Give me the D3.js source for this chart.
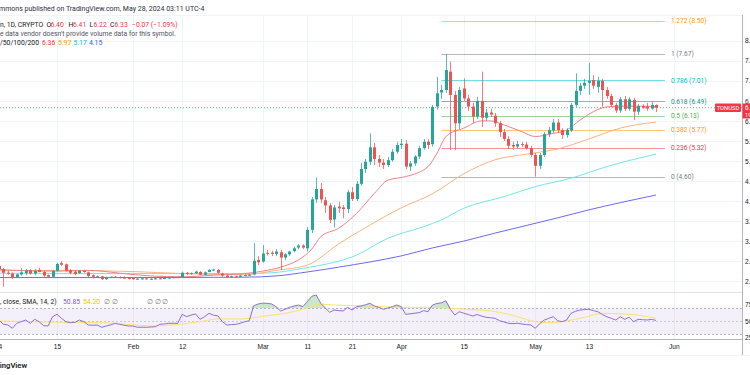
<!DOCTYPE html>
<html>
<head>
<meta charset="utf-8">
<script src="https://cdn.jsdelivr.net/npm/d3@7"></script>
<style>
  html, body { margin: 0; padding: 0; background: #fff; }
  svg { display: block; font-family: "Roboto", "Liberation Sans", sans-serif; }
</style>
</head>
<body>
<div id="chart"></div>
<script>
// --------------------------------------
//  Data (TONUSD, 1D)
// --------------------------------------

// [day, open, high, low, close]
const ohlcJan = [
  [1, 2.33, 2.40, 2.30, 2.38], [2, 2.38, 2.42, 2.28, 2.30], [3, 2.30, 2.33, 1.86, 2.21],
  [4, 2.21, 2.26, 2.16, 2.19], [5, 2.19, 2.22, 2.06, 2.10], [6, 2.10, 2.19, 2.08, 2.17],
  [7, 2.17, 2.33, 2.14, 2.22], [8, 2.20, 2.30, 2.15, 2.27], [9, 2.27, 2.30, 2.16, 2.19],
  [10, 2.19, 2.30, 2.15, 2.26], [11, 2.28, 2.34, 2.22, 2.23], [12, 2.23, 2.26, 2.10, 2.14],
  [13, 2.15, 2.17, 2.09, 2.11], [14, 2.11, 2.28, 2.09, 2.26], [15, 2.26, 2.46, 2.24, 2.43],
  [16, 2.45, 2.50, 2.38, 2.41], [17, 2.42, 2.44, 2.24, 2.26], [18, 2.27, 2.30, 2.17, 2.21],
  [19, 2.24, 2.27, 2.15, 2.18], [20, 2.20, 2.28, 2.18, 2.26], [21, 2.26, 2.28, 2.21, 2.23],
  [22, 2.22, 2.24, 2.10, 2.13], [23, 2.15, 2.17, 2.07, 2.11], [24, 2.11, 2.14, 2.08, 2.12],
  [25, 2.12, 2.13, 2.03, 2.05], [26, 2.05, 2.11, 2.03, 2.10], [27, 2.10, 2.12, 2.08, 2.11],
  [28, 2.11, 2.13, 2.08, 2.10], [29, 2.10, 2.12, 2.07, 2.09], [30, 2.09, 2.12, 2.06, 2.08],
  [31, 2.08, 2.10, 2.04, 2.07]
];
const ohlcFeb = [
  [1, 2.09, 2.10, 2.03, 2.05], [2, 2.05, 2.08, 2.04, 2.06], [3, 2.06, 2.08, 2.04, 2.07],
  [4, 2.07, 2.08, 2.04, 2.05], [5, 2.05, 2.07, 2.03, 2.06], [6, 2.06, 2.08, 2.04, 2.07],
  [7, 2.07, 2.08, 2.05, 2.06], [8, 2.06, 2.09, 2.05, 2.08], [9, 2.08, 2.10, 2.06, 2.09],
  [10, 2.09, 2.11, 2.07, 2.10], [11, 2.10, 2.12, 2.08, 2.09], [12, 2.09, 2.24, 2.08, 2.21],
  [13, 2.21, 2.23, 2.15, 2.18], [14, 2.18, 2.22, 2.16, 2.20], [15, 2.20, 2.26, 2.18, 2.24],
  [16, 2.23, 2.25, 2.15, 2.16], [17, 2.16, 2.24, 2.15, 2.22], [18, 2.23, 2.30, 2.22, 2.28],
  [19, 2.28, 2.31, 2.25, 2.29], [20, 2.28, 2.30, 2.18, 2.21], [21, 2.19, 2.21, 2.11, 2.14],
  [22, 2.14, 2.16, 2.08, 2.10], [23, 2.10, 2.14, 2.08, 2.12], [24, 2.12, 2.14, 2.10, 2.11],
  [25, 2.11, 2.16, 2.10, 2.14], [26, 2.14, 2.17, 2.12, 2.15], [27, 2.15, 2.18, 2.13, 2.16],
  [28, 2.17, 2.95, 2.15, 2.51], [29, 2.53, 2.62, 2.40, 2.47]
];
const ohlcMar = [
  [1, 2.49, 2.90, 2.46, 2.69], [2, 2.71, 2.78, 2.64, 2.69], [3, 2.71, 2.76, 2.63, 2.68],
  [4, 2.68, 2.80, 2.62, 2.74], [5, 2.72, 2.78, 2.28, 2.59], [6, 2.59, 2.70, 2.52, 2.67],
  [7, 2.67, 2.76, 2.63, 2.74], [8, 2.75, 2.86, 2.72, 2.82], [9, 2.84, 2.93, 2.80, 2.89],
  [10, 2.89, 2.92, 2.80, 2.84], [11, 2.82, 3.35, 2.74, 3.28], [12, 3.28, 4.10, 3.20, 4.04],
  [13, 4.04, 4.59, 3.95, 4.30], [14, 4.30, 4.45, 3.95, 4.04], [15, 4.02, 4.10, 3.70, 3.89],
  [16, 3.89, 3.95, 3.45, 3.53], [17, 3.54, 3.90, 3.34, 3.84], [18, 3.86, 3.98, 3.70, 3.82],
  [19, 3.84, 3.90, 3.57, 3.80], [20, 3.80, 4.28, 3.70, 4.22], [21, 4.22, 4.35, 4.00, 4.05],
  [22, 4.05, 4.50, 4.00, 4.43], [23, 4.43, 4.95, 4.38, 4.80], [24, 4.80, 5.05, 4.70, 4.98],
  [25, 4.98, 5.69, 4.90, 5.34], [26, 5.34, 5.45, 4.90, 5.05], [27, 5.05, 5.15, 4.85, 4.96],
  [28, 4.96, 5.05, 4.80, 4.90], [29, 4.90, 5.10, 4.85, 5.02], [30, 5.02, 5.30, 4.98, 5.23],
  [31, 5.23, 5.48, 5.18, 5.40]
];
const ohlcApr = [
  [1, 5.40, 5.55, 5.30, 5.43], [2, 5.43, 5.52, 4.80, 4.86], [3, 4.86, 5.00, 4.75, 4.94],
  [4, 4.94, 5.15, 4.88, 5.11], [5, 5.11, 5.38, 5.05, 5.32], [6, 5.32, 5.55, 5.28, 5.48],
  [7, 5.48, 5.55, 5.30, 5.40], [8, 5.42, 6.40, 5.36, 6.35], [9, 6.36, 7.10, 6.28, 6.69],
  [10, 6.71, 6.90, 6.55, 6.77], [11, 6.77, 7.67, 6.70, 7.27], [12, 7.23, 7.48, 5.27, 6.65],
  [13, 6.65, 6.75, 5.27, 5.94], [14, 5.94, 6.85, 5.80, 6.77], [15, 6.81, 7.06, 6.50, 6.56],
  [16, 6.56, 6.65, 6.25, 6.36], [17, 6.36, 6.45, 5.95, 6.11], [18, 6.11, 6.60, 6.05, 6.50],
  [19, 6.50, 7.23, 5.85, 6.08], [20, 6.08, 6.30, 6.00, 6.21], [21, 6.21, 6.30, 6.10, 6.16],
  [22, 6.13, 6.20, 5.85, 5.94], [23, 5.94, 6.00, 5.60, 5.72], [24, 5.72, 5.80, 5.50, 5.55],
  [25, 5.55, 5.62, 5.30, 5.38], [26, 5.40, 5.48, 5.28, 5.36], [27, 5.36, 5.50, 5.32, 5.42],
  [28, 5.42, 5.48, 5.35, 5.40], [29, 5.41, 5.48, 5.28, 5.32], [30, 5.32, 5.38, 5.10, 5.15]
];
const ohlcMay = [
  [1, 5.15, 5.20, 4.61, 4.88], [2, 4.88, 5.20, 4.80, 5.15], [3, 5.15, 5.72, 5.10, 5.67],
  [4, 5.67, 5.85, 5.60, 5.77], [5, 5.76, 6.05, 5.70, 5.96], [6, 5.96, 6.05, 5.70, 5.77],
  [7, 5.77, 5.82, 5.55, 5.65], [8, 5.65, 5.82, 5.58, 5.77], [9, 5.76, 6.45, 5.72, 6.40],
  [10, 6.40, 7.19, 6.35, 6.75], [11, 6.75, 6.95, 6.65, 6.88], [12, 6.88, 7.05, 6.80, 6.95],
  [13, 6.95, 7.45, 6.65, 7.00], [14, 7.02, 7.15, 6.80, 6.88], [15, 6.85, 7.10, 6.70, 7.00],
  [16, 7.00, 7.05, 6.35, 6.77], [17, 6.77, 6.85, 6.55, 6.62], [18, 6.62, 6.68, 6.35, 6.40],
  [19, 6.40, 6.45, 6.20, 6.26], [20, 6.26, 6.60, 6.20, 6.54], [21, 6.54, 6.62, 6.25, 6.30],
  [22, 6.30, 6.60, 6.25, 6.54], [23, 6.52, 6.58, 6.02, 6.23], [24, 6.23, 6.42, 6.15, 6.37],
  [25, 6.37, 6.42, 6.30, 6.33], [26, 6.36, 6.45, 6.25, 6.31], [27, 6.31, 6.48, 6.28, 6.40],
  [28, 6.40, 6.41, 6.22, 6.33]
];

// moving averages
const ma20 = [
  ["2024-01-01", 2.30], ["2024-01-08", 2.26], ["2024-01-15", 2.25], ["2024-01-22", 2.27],
  ["2024-01-29", 2.20], ["2024-02-05", 2.13], ["2024-02-12", 2.11], ["2024-02-19", 2.15],
  ["2024-02-26", 2.19], ["2024-03-01", 2.25], ["2024-03-05", 2.35], ["2024-03-09", 2.53],
  ["2024-03-12", 2.80], ["2024-03-14", 3.11], ["2024-03-18", 3.32], ["2024-03-22", 3.69],
  ["2024-03-26", 4.19], ["2024-03-29", 4.52], ["2024-04-02", 4.61], ["2024-04-07", 4.86],
  ["2024-04-09", 5.19], ["2024-04-11", 5.61], ["2024-04-15", 5.82], ["2024-04-19", 6.00],
  ["2024-04-21", 6.00], ["2024-04-24", 5.90], ["2024-04-28", 5.73], ["2024-05-01", 5.61],
  ["2024-05-05", 5.69], ["2024-05-08", 5.77], ["2024-05-11", 6.02], ["2024-05-14", 6.23],
  ["2024-05-17", 6.35], ["2024-05-21", 6.37], ["2024-05-28", 6.36]
];
const ma50 = [
  ["2024-01-01", 2.26], ["2024-01-15", 2.27], ["2024-02-01", 2.24], ["2024-02-12", 2.19],
  ["2024-02-26", 2.16], ["2024-03-04", 2.27], ["2024-03-11", 2.40], ["2024-03-18", 2.93],
  ["2024-03-25", 3.40], ["2024-04-01", 3.83], ["2024-04-08", 4.18], ["2024-04-15", 4.68],
  ["2024-04-22", 5.03], ["2024-04-29", 5.17], ["2024-05-06", 5.30], ["2024-05-13", 5.55],
  ["2024-05-20", 5.82], ["2024-05-28", 5.97]
];
const ma100 = [
  ["2024-01-01", 2.20], ["2024-02-01", 2.19], ["2024-02-26", 2.19], ["2024-03-03", 2.21],
  ["2024-03-10", 2.32], ["2024-03-22", 2.65], ["2024-03-29", 3.07], ["2024-04-06", 3.36],
  ["2024-04-10", 3.53], ["2024-04-15", 3.82], ["2024-04-24", 4.11], ["2024-05-01", 4.36],
  ["2024-05-09", 4.57], ["2024-05-17", 4.86], ["2024-05-28", 5.17]
];
const ma200 = [
  ["2024-01-01", 2.09], ["2024-02-01", 2.09], ["2024-02-26", 2.10], ["2024-03-04", 2.13],
  ["2024-03-11", 2.23], ["2024-03-18", 2.35], ["2024-03-25", 2.48], ["2024-04-01", 2.63],
  ["2024-04-08", 2.83], ["2024-04-15", 3.00], ["2024-04-22", 3.20], ["2024-04-29", 3.39],
  ["2024-05-06", 3.58], ["2024-05-13", 3.78], ["2024-05-20", 3.96], ["2024-05-28", 4.15]
];

// RSI(14), daily, per month (first day listed)
const rsiJan = [51.5, 45, 44, 38.8, 46.4, 49, 51.5, 46.4, 52.6, 48.9, 42.8, 42.3, 56.6, 60.3, 54.1,
  48.9, 47.4, 48, 51.5, 49, 43.8, 43.5, 43.8, 40.3, 42.3, 44, 46.4, 44.9, 43.5, 42.3]; // from Jan 2
const rsiFeb = [42.3, 40.3, 40.5, 40.3, 40.8, 41.2, 44.9, 45.5, 46.4, 46.4, 46.4, 60.3, 56.6, 59.2, 60.8,
  52.6, 56.6, 61.8, 59, 57.7, 48.9, 43.8, 44.5, 44.9, 46.5, 48.9, 50.5, 73.5, 76.2];
const rsiMar = [77.5, 77.2, 76.2, 72.1, 65.4, 68, 71, 73.1, 74.6, 72.1, 80, 88, 90, 77.2, 70, 63.4, 66.9,
  66, 65.4, 71, 66.9, 72, 73.1, 75, 77.2, 73.1, 71, 68, 70, 72, 74.6];
const rsiApr = [72.1, 60.3, 61, 62, 62.8, 66, 64.3, 74.6, 77, 78, 81.2, 68, 59.2, 64.3, 62, 60, 57.7, 60,
  57.5, 55.7, 55, 54.1, 50.5, 48.5, 46.4, 46, 46.5, 45.4, 44.5, 43.8];
const rsiMay = [38.8, 46, 51.5, 54, 56.6, 50.5, 49, 51.5, 61.8, 65, 66.9, 67.5, 68, 66, 64.3, 60, 56.5,
  54.1, 51.5, 56.6, 52.6, 55.7, 48.9, 52.6, 52, 51.5, 52.5, 50.85];
const rsiSma = [
  ["2024-01-02", 50], ["2024-01-10", 49], ["2024-01-17", 48], ["2024-01-25", 47.4], ["2024-02-01", 44],
  ["2024-02-05", 42.3], ["2024-02-08", 42.8], ["2024-02-12", 45.4], ["2024-02-16", 48.9],
  ["2024-02-20", 53.1], ["2024-02-24", 53.1], ["2024-02-27", 54.1], ["2024-03-02", 58.2],
  ["2024-03-06", 61.8], ["2024-03-10", 68], ["2024-03-14", 75.7], ["2024-03-17", 74.6],
  ["2024-03-25", 73.1], ["2024-04-01", 71], ["2024-04-08", 71], ["2024-04-12", 69.5],
  ["2024-04-16", 68], ["2024-04-23", 63.4], ["2024-04-27", 56.6], ["2024-05-01", 48.9],
  ["2024-05-04", 47.4], ["2024-05-08", 50], ["2024-05-12", 55.7], ["2024-05-16", 61.8],
  ["2024-05-20", 61], ["2024-05-24", 59], ["2024-05-28", 54.2]
];

// Fibonacci retracement (Apr 10 -> May 30)
const fibLevels = ["1.272", "1", "0.786", "0.618", "0.5", "0.382", "0.236", "0"];
const fibPrices = [8.50, 7.67, 7.01, 6.49, 6.13, 5.77, 5.32, 4.60];
const fibColors = ["#ff9800", "#787b86", "#00bcd4", "#089981", "#4caf50", "#ff9800", "#f23645", "#787b86"];
const fibRange = ["2024-04-10", "2024-05-30"];

// axes
const priceTicks = [2, 2.5, 3, 3.5, 4, 4.5, 5, 5.5, 6, 6.5, 7, 7.5, 8];
const rsiTicks = [75, 50, 25];
const timeTicks = ["2024-01-01", "2024-01-15", "2024-02-01", "2024-02-12", "2024-03-01", "2024-03-11",
  "2024-03-21", "2024-04-01", "2024-04-15", "2024-05-01", "2024-05-13", "2024-06-01"];
const timeLabels = ["2024", "15", "Feb", "12", "Mar", "11", "21", "Apr", "15", "May", "13", "Jun"];
const lastPrice = 6.33;

// --------------------------------------
//  Canvas
// --------------------------------------

const width = 750, height = 375;
const paneRight = 742;
const main = { top: 15, bottom: 292 };
const rsiPane = { top: 293, bottom: 339 };

const parse = d3.utcParse("%Y-%m-%d");
const candles = [];
[ohlcJan, ohlcFeb, ohlcMar, ohlcApr, ohlcMay].forEach((rows, m) => {
  rows.forEach(([day, o, h, l, c]) => candles.push({ date: new Date(Date.UTC(2024, m, day)), o, h, l, c }));
});
const rsi = [];
[[rsiJan, 0, 2], [rsiFeb, 1, 1], [rsiMar, 2, 1], [rsiApr, 3, 1], [rsiMay, 4, 1]].forEach(([vals, m, first]) => {
  vals.forEach((v, i) => rsi.push({ date: new Date(Date.UTC(2024, m, first + i)), v }));
});

const svg = d3.select("#chart").append("svg")
  .attr("width", width).attr("height", height)
  .attr("viewBox", [0, 0, width, height]);

const x = d3.scaleUtc()
  .domain([parse("2024-02-01"), parse("2024-06-01")])
  .range([133, 133 + 121 * 4.47]);
const y = d3.scaleLinear().domain([4.60, 7.67]).range([177, 54]);
const yr = d3.scaleLinear().domain([30, 70]).range([334, 308]);

const defs = svg.append("defs");
defs.append("clipPath").attr("id", "clipMain").append("rect")
  .attr("x", 0).attr("y", main.top).attr("width", paneRight).attr("height", main.bottom - main.top);
defs.append("clipPath").attr("id", "clipRsi").append("rect")
  .attr("x", 0).attr("y", rsiPane.top).attr("width", paneRight).attr("height", rsiPane.bottom - rsiPane.top);

// --------------------------------------
//  Grid + frames
// --------------------------------------

svg.append("g").selectAll("line")
  .data(priceTicks)
  .join("line")
  .attr("x1", 0).attr("x2", paneRight)
  .attr("y1", d => Math.round(y(d)) + 0.5).attr("y2", d => Math.round(y(d)) + 0.5)
  .attr("stroke", "#f0f3fa");

svg.append("g").selectAll("line")
  .data(timeTicks)
  .join("line")
  .attr("x1", d => Math.round(x(parse(d))) + 0.5).attr("x2", d => Math.round(x(parse(d))) + 0.5)
  .attr("y1", main.top).attr("y2", rsiPane.bottom)
  .attr("stroke", "#f0f3fa");

svg.append("line").attr("x1", 0).attr("x2", paneRight).attr("y1", main.top + 0.5).attr("y2", main.top + 0.5)
  .attr("stroke", "#f0f3fa");
svg.append("line").attr("x1", 0).attr("x2", paneRight).attr("y1", main.bottom + 0.5).attr("y2", main.bottom + 0.5)
  .attr("stroke", "#e0e3eb");
svg.append("line").attr("x1", 0).attr("x2", paneRight).attr("y1", rsiPane.bottom + 0.5).attr("y2", rsiPane.bottom + 0.5)
  .attr("stroke", "#b2b5be");
svg.append("line").attr("x1", 0).attr("x2", width).attr("y1", 355.5).attr("y2", 355.5)
  .attr("stroke", "#f0f3fa");
svg.append("line").attr("x1", paneRight + 0.5).attr("x2", paneRight + 0.5).attr("y1", main.top).attr("y2", 355)
  .attr("stroke", "#b2b5be");

// --------------------------------------
//  Main pane
// --------------------------------------

const gMain = svg.append("g").attr("clip-path", "url(#clipMain)");

// fib levels
const fx0 = x(parse(fibRange[0])), fx1 = x(parse(fibRange[1]));
gMain.selectAll("line.fib")
  .data(fibPrices)
  .join("line")
  .attr("class", "fib")
  .attr("x1", fx0).attr("x2", fx1)
  .attr("y1", d => Math.round(y(d)) + 0.5).attr("y2", d => Math.round(y(d)) + 0.5)
  .attr("stroke", (d, i) => fibColors[i])
  .attr("stroke-opacity", 0.55)
  .attr("stroke-width", 1.2);

gMain.selectAll("text.fib")
  .data(fibPrices)
  .join("text")
  .attr("class", "fib")
  .attr("x", fx1 + 6)
  .attr("y", d => y(d) + 2.3)
  .attr("font-size", 6.6)
  .attr("fill", (d, i) => fibColors[i])
  .text((d, i) => `${fibLevels[i]} (${d.toFixed(2)})`);

// moving averages
const maLine = d3.line()
  .x(d => x(parse(d[0])))
  .y(d => y(d[1]))
  .curve(d3.curveMonotoneX);

[[ma200, "#6b6bf2"], [ma100, "#6fe6f0"], [ma50, "#ffb27a"], [ma20, "#f47f86"]].forEach(([data, color]) => {
  gMain.append("path")
    .datum(data)
    .attr("d", maLine)
    .attr("fill", "none")
    .attr("stroke", color)
    .attr("stroke-width", 1);
});

// last price line
gMain.append("line")
  .attr("x1", 0).attr("x2", paneRight)
  .attr("y1", y(lastPrice)).attr("y2", y(lastPrice))
  .attr("stroke", "#f23645")
  .attr("stroke-opacity", 0.7)
  .attr("stroke-dasharray", "1,2");

// candles
const up = "#26a69a", down = "#ef5350";
gMain.selectAll("line.wick")
  .data(candles)
  .join("line")
  .attr("class", "wick")
  .attr("x1", d => Math.round(x(d.date)) + 0.5).attr("x2", d => Math.round(x(d.date)) + 0.5)
  .attr("y1", d => y(d.h)).attr("y2", d => y(d.l))
  .attr("stroke", d => d.c >= d.o ? up : down)
  .attr("stroke-opacity", 0.75);

gMain.selectAll("rect.body")
  .data(candles)
  .join("rect")
  .attr("class", "body")
  .attr("x", d => Math.round(x(d.date)) - 1)
  .attr("width", 3)
  .attr("y", d => y(Math.max(d.o, d.c)))
  .attr("height", d => Math.max(1, Math.abs(y(d.o) - y(d.c))))
  .attr("fill", d => d.c >= d.o ? up : down);

// symbol tag on price line
svg.append("rect").attr("x", 715).attr("y", 103.5).attr("width", 26).attr("height", 8.5)
  .attr("fill", "#f23645").attr("rx", 1);
svg.append("text").attr("x", 728).attr("y", 110).attr("text-anchor", "middle")
  .attr("font-size", 5.8).attr("fill", "#fff").text("TONUSD");

// --------------------------------------
//  Price axis
// --------------------------------------

const yAxis = svg.append("g")
  .attr("transform", `translate(${paneRight},0)`)
  .call(d3.axisRight(y).tickValues(priceTicks).tickSize(0).tickPadding(3).tickFormat(d3.format(".2f")));
yAxis.select(".domain").remove();
yAxis.selectAll("text").attr("font-size", 6.6).attr("fill", "#131722").attr("font-family", null);

svg.append("rect").attr("x", paneRight + 0.5).attr("y", 103.5).attr("width", 30).attr("height", 15)
  .attr("fill", "#f23645");
svg.append("text").attr("x", 745).attr("y", 110).attr("font-size", 6.4).attr("fill", "#fff").text(lastPrice.toFixed(2));
svg.append("text").attr("x", 745).attr("y", 116.5).attr("font-size", 5.6).attr("fill", "#fff").text("19:48:51");

// --------------------------------------
//  RSI pane
// --------------------------------------

const gRsi = svg.append("g").attr("clip-path", "url(#clipRsi)");

gRsi.append("rect")
  .attr("x", 0).attr("width", paneRight)
  .attr("y", yr(70)).attr("height", yr(30) - yr(70))
  .attr("fill", "#7e57c2").attr("fill-opacity", 0.09);

gRsi.selectAll("line.band")
  .data([70, 50, 30])
  .join("line")
  .attr("class", "band")
  .attr("x1", 0).attr("x2", paneRight)
  .attr("y1", d => Math.round(yr(d)) + 0.5).attr("y2", d => Math.round(yr(d)) + 0.5)
  .attr("stroke", "#9598a1")
  .attr("stroke-opacity", d => d === 50 ? 0.45 : 0.7)
  .attr("stroke-dasharray", "2,2");

gRsi.append("path")
  .datum(rsi)
  .attr("d", d3.area()
    .x(d => x(d.date))
    .y0(yr(70))
    .y1(d => yr(Math.max(70, d.v))))
  .attr("fill", "#4caf50")
  .attr("fill-opacity", 0.3);

gRsi.append("path")
  .datum(rsiSma)
  .attr("d", d3.line().x(d => x(parse(d[0]))).y(d => yr(d[1])).curve(d3.curveMonotoneX))
  .attr("fill", "none")
  .attr("stroke", "#fde26b")
  .attr("stroke-width", 1);

gRsi.append("path")
  .datum(rsi)
  .attr("d", d3.line().x(d => x(d.date)).y(d => yr(d.v)))
  .attr("fill", "none")
  .attr("stroke", "#8f6fd6")
  .attr("stroke-width", 1);

const rAxis = svg.append("g")
  .attr("transform", `translate(${paneRight},0)`)
  .call(d3.axisRight(yr).tickValues(rsiTicks).tickSize(0).tickPadding(3).tickFormat(d3.format(".2f")));
rAxis.select(".domain").remove();
rAxis.selectAll("text").attr("font-size", 6.6).attr("fill", "#131722").attr("font-family", null);

// --------------------------------------
//  Time axis
// --------------------------------------

const xAxis = svg.append("g")
  .attr("transform", `translate(0,${rsiPane.bottom})`)
  .call(d3.axisBottom(x).tickValues(timeTicks.map(parse)).tickSize(0).tickPadding(5)
    .tickFormat((d, i) => timeLabels[i]));
xAxis.select(".domain").remove();
xAxis.selectAll("text").attr("font-size", 6.6).attr("fill", "#131722").attr("font-family", null);

// --------------------------------------
//  Legends
// --------------------------------------

const txt = (xx, yy, s, color, size = 6.8) => svg.append("text")
  .attr("x", xx).attr("y", yy).attr("font-size", size).attr("fill", color).text(s);

txt(-1, 10.5, "mmons published on TradingView.com, May 28, 2024 03:11 UTC-4", "#2a2e39", 7);

txt(0, 26.5, "n, 1D, CRYPTO", "#131722");
txt(46.5, 26.5, "O", "#131722"); txt(50.5, 26.5, "6.40", "#f23645");
txt(68.5, 26.5, "H", "#131722"); txt(73, 26.5, "6.41", "#f23645");
txt(89.5, 26.5, "L", "#131722"); txt(93.5, 26.5, "6.22", "#f23645");
txt(110, 26.5, "C", "#131722"); txt(114.5, 26.5, "6.33", "#f23645");
txt(132, 26.5, "\u22120.07 (\u22121.09%)", "#f23645");

txt(0, 35.5, "e data vendor doesn't provide volume data for this symbol.", "#50535e");

txt(0, 44.5, "/50/100/200", "#131722");
txt(42, 44.5, "6.36", "#f23645");
txt(58, 44.5, "5.97", "#ff9800");
txt(73.5, 44.5, "5.17", "#00bcd4");
txt(89, 44.5, "4.15", "#2962ff");

txt(0, 303.5, ", close, SMA, 14, 2)", "#131722");
txt(63, 303.5, "50.85", "#7e57c2");
txt(83, 303.5, "54.20", "#e8c400");
txt(104, 303.5, "\u2205  \u2205", "#787b86");
txt(147, 303.5, "\u2205  \u2205  \u2205", "#787b86");

svg.append("text").attr("x", 27).attr("y", 368).attr("text-anchor", "end")
  .attr("font-size", 7.6).attr("font-weight", 600).attr("fill", "#131722").text("TradingView");
</script>
</body>
</html>
